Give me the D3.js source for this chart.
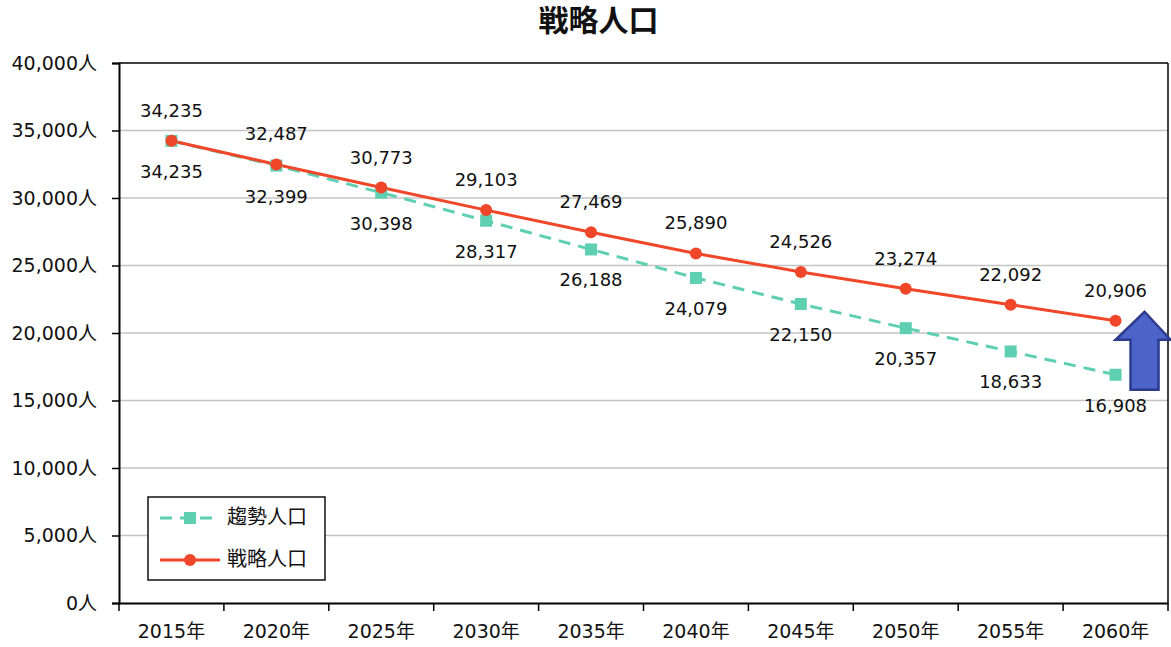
<!DOCTYPE html>
<html>
<head>
<meta charset="utf-8">
<script src="https://cdn.jsdelivr.net/npm/d3@7"></script>
<style>
  body { margin: 0; background: #fff; }
  text { font-family: "DejaVu Sans", "Noto Sans CJK JP", sans-serif; fill: #111; }
</style>
</head>
<body>
<div class="canvas"></div>
<script>
// data
const years = ["2015年","2020年","2025年","2030年","2035年","2040年","2045年","2050年","2055年","2060年"];
const trendPop = [34235, 32399, 30398, 28317, 26188, 24079, 22150, 20357, 18633, 16908];
const strategyPop = [34235, 32487, 30773, 29103, 27469, 25890, 24526, 23274, 22092, 20906];
const yTicks = [0, 5000, 10000, 15000, 20000, 25000, 30000, 35000, 40000];
const seriesNames = ["趨勢人口", "戦略人口"];

const margin = { top: 63, right: 3, bottom: 44, left: 119 };
const width = 1171 - margin.left - margin.right;
const height = 647 - margin.top - margin.bottom;

const redCol = "#f0472a";
const tealCol = "#5ecfb1";

const svg = d3.select(".canvas")
    .append("svg")
        .attr("width", 1171)
        .attr("height", 647)
    .append("g")
        .attr("transform", `translate(${margin.left}, ${margin.top})`);

const x = d3.scaleBand()
    .domain(years)
    .range([0, width]);

const y = d3.scaleLinear()
    .domain([0, 40000])
    .range([height, 0]);

const fmt = d3.format(",");
const cx = d => x(d) + x.bandwidth() / 2;

// gridlines
svg.append("g")
    .selectAll("line")
    .data(yTicks.slice(1, -1))
    .join("line")
        .attr("x1", 0)
        .attr("x2", width)
        .attr("y1", d => y(d))
        .attr("y2", d => y(d))
        .attr("stroke", "#c4c4c4")
        .attr("stroke-width", 1.5);

// frame top / right
svg.append("line")
    .attr("x1", 0).attr("x2", width)
    .attr("y1", 0).attr("y2", 0)
    .attr("stroke", "#000").attr("stroke-width", 1.5);
svg.append("line")
    .attr("x1", width).attr("x2", width)
    .attr("y1", 0).attr("y2", height)
    .attr("stroke", "#000").attr("stroke-width", 1.5);

// y axis
const yAxis = svg.append("g")
    .call(d3.axisLeft(y)
        .tickValues(yTicks)
        .tickSize(7)
        .tickPadding(15)
        .tickFormat(d => fmt(d) + "人"));
yAxis.select(".domain").attr("stroke-width", 2);
yAxis.selectAll(".tick line").attr("stroke-width", 1.5);
yAxis.selectAll("text").style("font-size", "19px").attr("fill", "#111");

// x axis with ticks at category boundaries
const xAxis = svg.append("g")
    .attr("transform", `translate(0,${height})`)
    .call(d3.axisBottom(x).tickSize(0).tickPadding(22));
xAxis.select(".domain").attr("stroke-width", 2);
xAxis.selectAll("text").style("font-size", "19px").attr("fill", "#111");
svg.append("g")
    .selectAll("line")
    .data(years.concat(["end"]))
    .join("line")
        .attr("x1", (d, i) => i * x.bandwidth())
        .attr("x2", (d, i) => i * x.bandwidth())
        .attr("y1", height)
        .attr("y2", height + 8)
        .attr("stroke", "#000")
        .attr("stroke-width", 1.5);

// lines
const line = d3.line()
    .x((d, i) => cx(years[i]))
    .y(d => y(d));

svg.append("path")
    .datum(trendPop)
    .attr("fill", "none")
    .attr("stroke", tealCol)
    .attr("stroke-width", 3)
    .attr("stroke-dasharray", "12,8")
    .attr("d", line);

svg.append("path")
    .datum(strategyPop)
    .attr("fill", "none")
    .attr("stroke", redCol)
    .attr("stroke-width", 3)
    .attr("d", line);

// markers
svg.append("g")
    .selectAll("rect")
    .data(trendPop)
    .join("rect")
        .attr("x", (d, i) => cx(years[i]) - 6)
        .attr("y", d => y(d) - 6)
        .attr("width", 12)
        .attr("height", 12)
        .attr("fill", tealCol);

svg.append("g")
    .selectAll("circle")
    .data(strategyPop)
    .join("circle")
        .attr("cx", (d, i) => cx(years[i]))
        .attr("cy", d => y(d))
        .attr("r", 6)
        .attr("fill", redCol);

// data labels
svg.append("g")
    .selectAll("text")
    .data(strategyPop)
    .join("text")
        .attr("x", (d, i) => cx(years[i]))
        .attr("y", d => y(d) - 29)
        .attr("text-anchor", "middle")
        .attr("dominant-baseline", "middle")
        .style("font-size", "18px")
        .text(d => fmt(d));

svg.append("g")
    .selectAll("text")
    .data(trendPop)
    .join("text")
        .attr("x", (d, i) => cx(years[i]))
        .attr("y", d => y(d) + 32)
        .attr("text-anchor", "middle")
        .attr("dominant-baseline", "middle")
        .style("font-size", "18px")
        .text(d => fmt(d));

// blue up arrow near 2060
const ax = cx(years[9]) + 29;
const aTop = y(strategyPop[9]) - 9;
const aBot = y(trendPop[9]) + 15;
const headB = aTop + 28;
svg.append("path")
    .attr("d", `M${ax},${aTop} L${ax + 26},${headB} L${ax + 14},${headB} L${ax + 14},${aBot}
                L${ax - 14},${aBot} L${ax - 14},${headB} L${ax - 29},${headB} Z`)
    .attr("fill", "#4c63c9")
    .attr("stroke", "#2c3b8c")
    .attr("stroke-width", 2.5)
    .attr("stroke-linejoin", "miter");

// legend
const lg = svg.append("g").attr("transform", `translate(29, ${height - 106})`);
lg.append("rect")
    .attr("width", 177)
    .attr("height", 83)
    .attr("fill", "#fff")
    .attr("stroke", "#111")
    .attr("stroke-width", 1.5);
const items = [
    { name: seriesNames[0], color: tealCol, dash: "12,8", mark: "rect" },
    { name: seriesNames[1], color: redCol, dash: null, mark: "circle" }
];
items.forEach((it, i) => {
    const yy = 21 + i * 42;
    lg.append("line")
        .attr("x1", 12).attr("x2", 72)
        .attr("y1", yy).attr("y2", yy)
        .attr("stroke", it.color)
        .attr("stroke-width", 3)
        .attr("stroke-dasharray", it.dash);
    if (it.mark === "rect") {
        lg.append("rect")
            .attr("x", 36).attr("y", yy - 6)
            .attr("width", 12).attr("height", 12)
            .attr("fill", it.color);
    } else {
        lg.append("circle")
            .attr("cx", 42).attr("cy", yy).attr("r", 6)
            .attr("fill", it.color);
    }
    lg.append("text")
        .attr("x", 79)
        .attr("y", yy)
        .attr("dominant-baseline", "middle")
        .style("font-size", "20px")
        .text(it.name);
});

// title
svg.append("text")
    .attr("x", width / 2 - 45)
    .attr("y", 22 - margin.top)
    .attr("text-anchor", "middle")
    .attr("dominant-baseline", "middle")
    .style("font-size", "30px")
    .style("font-weight", "bold")
    .text("戦略人口");
</script>
</body>
</html>
